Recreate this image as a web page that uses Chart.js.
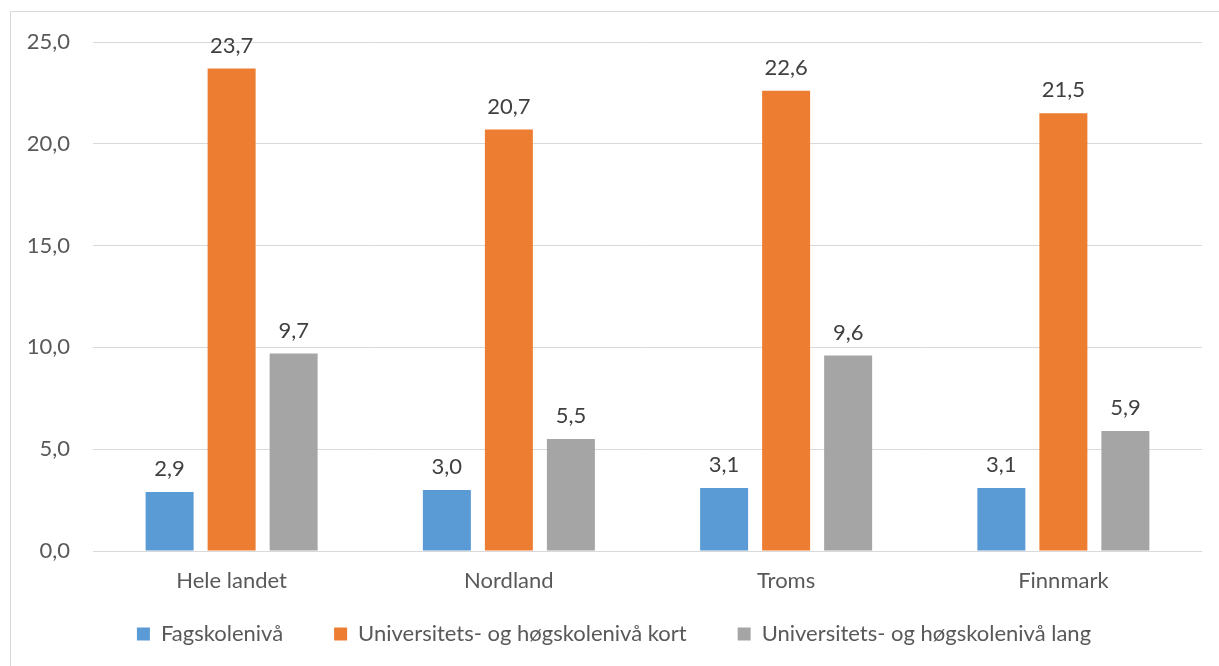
<!DOCTYPE html>
<html lang="no">
<head>
    <meta charset="utf-8" />
    <title>Utdanningsnivå</title>
    <script src="https://cdn.jsdelivr.net/npm/chart.js@4/dist/chart.umd.min.js"></script>
    <style>
        html, body { margin: 0; padding: 0; background: #ffffff; }
        #chartDiv { width: 1219px; height: 666px; }
    </style>
    <script type="text/javascript">
        // categories and values
        const regions = ['Hele landet', 'Nordland', 'Troms', 'Finnmark'];
        const fagskole = [2.9, 3.0, 3.1, 3.1];
        const uniKort = [23.7, 20.7, 22.6, 21.5];
        const uniLang = [9.7, 5.5, 9.6, 5.9];
        const yTicks = [0, 5, 10, 15, 20, 25];

        const seriesNames = ['Fagskolenivå', 'Universitets- og høgskolenivå kort', 'Universitets- og høgskolenivå lang'];
        const seriesColors = ['#5b9bd5', '#ed7d31', '#a5a5a5'];

        const fontFamily = 'Lato, "Open Sans", sans-serif';

        function numNo(v) {
            return v.toFixed(1).replace('.', ',');
        }

        // frame around the chart (only left and top edges are inside the picture)
        const framePlugin = {
            id: 'frame',
            beforeDraw(chart) {
                const ctx = chart.ctx;
                ctx.save();
                ctx.strokeStyle = '#d9d9d9';
                ctx.lineWidth = 1;
                ctx.strokeRect(10.5, 11.5, chart.width + 20, chart.height + 20);
                ctx.restore();
            }
        };

        // value above every bar
        const valueLabels = {
            id: 'valueLabels',
            afterDatasetsDraw(chart) {
                const ctx = chart.ctx;
                ctx.save();
                ctx.font = '22px ' + fontFamily;
                ctx.fillStyle = '#404040';
                ctx.textAlign = 'center';
                ctx.textBaseline = 'middle';
                chart.data.datasets.forEach(function (ds, i) {
                    const meta = chart.getDatasetMeta(i);
                    meta.data.forEach(function (bar, j) {
                        ctx.fillText(numNo(ds.data[j]), bar.x, bar.y - 23);
                    });
                });
                ctx.restore();
            }
        };

        function onInit() {
            const datasets = [fagskole, uniKort, uniLang].map(function (vals, i) {
                return {
                    label: seriesNames[i],
                    data: vals,
                    backgroundColor: seriesColors[i],
                    borderWidth: 0,
                    categoryPercentage: 0.671,
                    barPercentage: 0.774
                };
            });

            const ctx = document.getElementById('chartCanvas').getContext('2d');
            new Chart(ctx, {
                type: 'bar',
                data: { labels: regions, datasets: datasets },
                plugins: [framePlugin, valueLabels],
                options: {
                    responsive: false,
                    animation: false,
                    layout: { padding: { left: 26, right: 17, top: 42, bottom: 11 } },
                    plugins: {
                        tooltip: { enabled: false },
                        legend: {
                            position: 'bottom',
                            align: 'center',
                            labels: {
                                boxWidth: 13,
                                boxHeight: 13,
                                padding: 51,
                                color: '#595959',
                                font: { family: fontFamily, size: 22 }
                            }
                        }
                    },
                    scales: {
                        x: {
                            grid: { display: false, drawTicks: false },
                            border: { display: false },
                            ticks: {
                                color: '#595959',
                                mirror: true,
                                padding: -43,
                                font: { family: fontFamily, size: 22 }
                            },
                            afterFit(scale) { scale.height = 21; }
                        },
                        y: {
                            min: 0,
                            max: 25,
                            afterBuildTicks(scale) {
                                scale.ticks = yTicks.map(function (v) { return { value: v }; });
                            },
                            grid: { color: '#d9d9d9', lineWidth: 1, drawTicks: false },
                            border: { display: false },
                            ticks: {
                                color: '#595959',
                                padding: 23,
                                font: { family: fontFamily, size: 22 },
                                callback: function (v) { return numNo(v); }
                            },
                            afterFit(scale) { scale.width = 67; }
                        }
                    }
                }
            });
        }

        window.onload = onInit;
    </script>
</head>
<body>
    <div id="chartDiv">
        <canvas id="chartCanvas" width="1219" height="666"></canvas>
    </div>
</body>
</html>
